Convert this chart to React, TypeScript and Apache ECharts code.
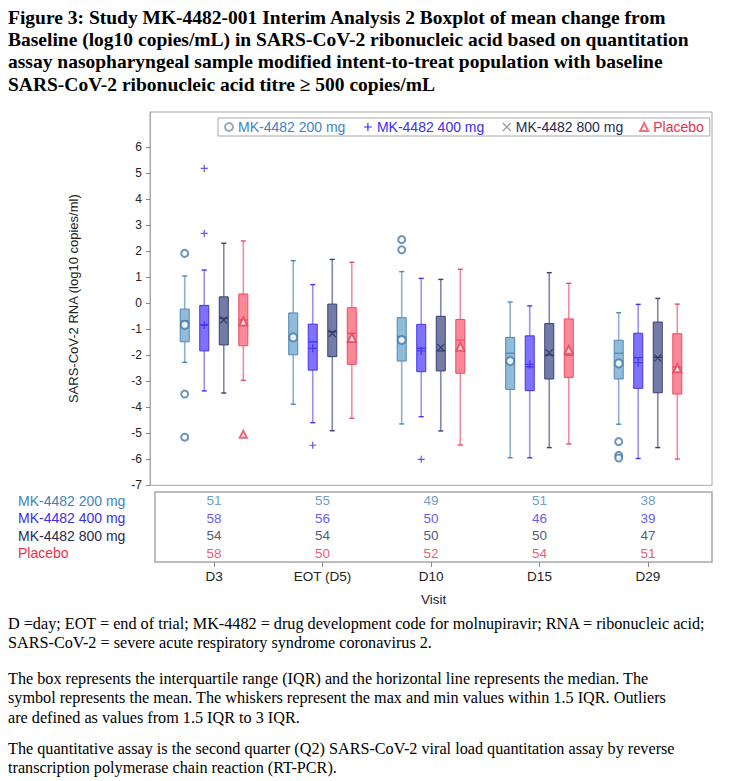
import React, { useEffect, useRef } from "react";
import * as echarts from "echarts";

const visits = ["D3", "EOT (D5)", "D10", "D15", "D29"];
const groups = ["MK-4482 200 mg", "MK-4482 400 mg", "MK-4482 800 mg", "Placebo"];

// per visit: [whisker low, Q1, median, Q3, whisker high]
const box200 = [
  [-2.27, -1.48, -0.68, -0.22, 1.05],
  [-3.88, -1.98, -1.3, -0.37, 1.64],
  [-4.64, -2.22, -1.28, -0.55, 1.22],
  [-5.94, -3.31, -1.92, -1.31, 0.05],
  [-4.65, -2.91, -1.92, -1.42, -0.36],
];
const mean200 = [-0.83, -1.31, -1.41, -2.22, -2.31];
const out200 = [[0, 1.92], [0, -3.49], [0, -5.15], [2, 2.45], [2, 2.06], [4, -5.32], [4, -5.85], [4, -5.95]];

const box400 = [
  [-3.37, -1.83, -0.83, -0.08, 1.28],
  [-4.59, -2.57, -1.48, -0.8, 0.72],
  [-4.36, -2.63, -1.73, -0.81, 0.96],
  [-5.94, -3.36, -2.44, -1.25, -0.1],
  [-5.97, -3.27, -2.09, -1.15, -0.04],
];
const mean400 = [-0.83, -1.73, -1.83, -2.35, -2.28];
const out400 = [[0, 5.19], [0, 2.69], [1, -5.46], [2, -6.0]];

const box800 = [
  [-3.45, -1.6, -0.58, 0.25, 2.31],
  [-4.9, -2.05, -1.09, -0.03, 1.69],
  [-4.91, -2.6, -1.83, -0.5, 0.92],
  [-5.55, -2.91, -1.99, -0.78, 1.18],
  [-5.55, -3.44, -2.08, -0.72, 0.19],
];
const mean800 = [-0.64, -1.16, -1.7, -1.9, -2.1];
const out800: number[][] = [];

const boxPbo = [
  [-2.96, -1.63, -0.64, 0.36, 2.4],
  [-4.42, -2.35, -1.16, -0.17, 1.58],
  [-5.45, -2.69, -1.41, -0.62, 1.31],
  [-5.41, -2.85, -2.0, -0.6, 0.77],
  [-5.99, -3.49, -2.45, -1.17, -0.03],
];
const meanPbo = [-0.7, -1.33, -1.67, -1.79, -2.5];
const outPbo = [[0, -5.04]];

const n200 = [51, 55, 49, 51, 38];
const n400 = [58, 56, 50, 46, 39];
const n800 = [54, 54, 50, 50, 47];
const nPbo = [58, 50, 52, 54, 51];

const yTicks = [-7, -6, -5, -4, -3, -2, -1, 0, 1, 2, 3, 4, 5, 6];

const titleLines = [
  "Figure 3: Study MK-4482-001 Interim Analysis 2 Boxplot of mean change from",
  "Baseline (log10 copies/mL) in SARS-CoV-2 ribonucleic acid based on quantitation",
  "assay nasopharyngeal sample modified intent-to-treat population with baseline",
  "SARS-CoV-2 ribonucleic acid titre \u2265 500 copies/mL",
];
const noteLines = [
  ["D =day; EOT = end of trial; MK-4482 = drug development code for molnupiravir; RNA = ribonucleic acid;", "SARS-CoV-2 = severe acute respiratory syndrome coronavirus 2."],
  [
    "The box represents the interquartile range (IQR) and the horizontal line represents the median. The",
    "symbol represents the mean. The whiskers represent the max and min values within 1.5 IQR. Outliers",
    "are defined as values from 1.5 IQR to 3 IQR.",
  ],
  [
    "The quantitative assay is the second quarter (Q2) SARS-CoV-2 viral load quantitation assay by reverse",
    "transcription polymerase chain reaction (RT-PCR).",
  ],
];

const PLUS = "path://M5,0L5,10M0,5L10,5";
const CROSS = "path://M0,0L10,10M10,0L0,10";

const styles = [
  { fill: "rgba(125,176,212,0.85)", stroke: "#4f87b5", whisker: "#8fb0cc", text: "#3f84c0", marker: "#4a7aa8", legendMarker: "#9aaabb", symbol: "emptyCircle", size: 8 },
  { fill: "rgba(105,88,248,0.85)", stroke: "#4433ee", whisker: "#9a90f2", text: "#3b2df0", marker: "#3b2df0", legendMarker: "#3b2df0", symbol: PLUS, size: 8 },
  { fill: "rgba(100,110,158,0.9)", stroke: "#363f70", whisker: "#8088aa", text: "#252c4f", marker: "#2b3463", legendMarker: "#999999", symbol: CROSS, size: 7 },
  { fill: "rgba(250,115,132,0.85)", stroke: "#ef4a63", whisker: "#f58c9a", text: "#e8304a", marker: "#e8405a", legendMarker: "#f07080", symbol: "emptyTriangle", size: 8 },
];

const boxes = [box200, box400, box800, boxPbo];
const means = [mean200, mean400, mean800, meanPbo];
const outs = [out200, out400, out800, outPbo];
const counts = [n200, n400, n800, nPbo];
const offsets = [-0.27, -0.09, 0.09, 0.27];

const FIG_FONT = "'Liberation Sans', Arial, sans-serif";
const SERIF = "'Liberation Serif', 'DejaVu Serif', serif";

export default function App() {
  const ref = useRef<HTMLDivElement>(null);
  useEffect(() => {
    if (!ref.current) return;
    const chart = echarts.init(ref.current, undefined, { renderer: "svg" });

    const series: any[] = [];
    groups.forEach((g, gi) => {
      const st = styles[gi];
      const isPath = st.symbol.startsWith("path");
      series.push({
        type: "custom",
        name: g,
        xAxisIndex: 0,
        yAxisIndex: 0,
        data: boxes[gi].map((b, i) => [i + offsets[gi], ...b]),
        encode: { x: 0, y: [1, 2, 3, 4, 5] },
        itemStyle: { color: st.marker },
        z: 3,
        renderItem: (params: any, api: any) => {
          const xv = api.value(0);
          const lo = api.coord([xv, api.value(1)]);
          const q1 = api.coord([xv, api.value(2)]);
          const md = api.coord([xv, api.value(3)]);
          const q3 = api.coord([xv, api.value(4)]);
          const hi = api.coord([xv, api.value(5)]);
          const x = lo[0];
          const hw = 4.5;
          const cw = 2.5;
          const ws = { stroke: st.whisker, lineWidth: 1.6 };
          return {
            type: "group",
            children: [
              { type: "line", shape: { x1: x, y1: hi[1], x2: x, y2: q3[1] }, style: ws },
              { type: "line", shape: { x1: x, y1: q1[1], x2: x, y2: lo[1] }, style: ws },
              { type: "line", shape: { x1: x - cw, y1: hi[1], x2: x + cw, y2: hi[1] }, style: { stroke: st.stroke, lineWidth: 1.4 } },
              { type: "line", shape: { x1: x - cw, y1: lo[1], x2: x + cw, y2: lo[1] }, style: { stroke: st.stroke, lineWidth: 1.4 } },
              { type: "rect", shape: { x: x - hw, y: q3[1], width: hw * 2, height: q1[1] - q3[1] }, style: { fill: st.fill, stroke: st.stroke, lineWidth: 1 } },
              { type: "line", shape: { x1: x - hw, y1: md[1], x2: x + hw, y2: md[1] }, style: { stroke: st.stroke, lineWidth: 1.3 } },
            ],
          };
        },
      });
      series.push({
        type: "scatter",
        name: g,
        xAxisIndex: 0,
        yAxisIndex: 0,
        data: means[gi].map((m, i) => [i + offsets[gi], m]),
        symbol: st.symbol,
        symbolSize: st.size,
        itemStyle: { color: isPath ? "none" : st.marker, borderColor: st.marker, borderWidth: 1.3 },
        z: 5,
      });
      series.push({
        type: "scatter",
        name: g,
        xAxisIndex: 0,
        yAxisIndex: 0,
        data: outs[gi].map((o) => [o[0] + offsets[gi], o[1]]),
        symbol: st.symbol,
        symbolSize: st.size - 1,
        itemStyle: { color: isPath ? "none" : st.marker, borderColor: st.marker, borderWidth: 1.2 },
        z: 5,
      });
      series.push({
        type: "scatter",
        name: "n-" + g,
        xAxisIndex: 1,
        yAxisIndex: 1,
        data: counts[gi].map((n, i) => [i, gi, n]),
        symbolSize: 1,
        itemStyle: { color: "rgba(0,0,0,0)" },
        label: {
          show: true,
          position: "inside",
          formatter: (p: any) => String(p.value[2]),
          color: st.text,
          fontSize: 13.5,
          fontFamily: FIG_FONT,
        },
        silent: true,
      });
    });

    const graphic: any[] = [];
    titleLines.forEach((t, i) => {
      graphic.push({
        type: "text",
        x: 8,
        y: 17 + i * 22.4,
        style: { text: t, fill: "#000", font: `bold 19.5px ${SERIF}`, verticalAlign: "middle", align: "left" },
      });
    });
    const paraY = [624, 679, 749];
    noteLines.forEach((para, pi) => {
      para.forEach((t, li) => {
        graphic.push({
          type: "text",
          x: 8,
          y: paraY[pi] + li * 19.3,
          style: { text: t, fill: "#000", font: `16.2px ${SERIF}`, verticalAlign: "middle", align: "left" },
        });
      });
    });

    const option: any = {
      animation: false,
      backgroundColor: "#fff",
      textStyle: { fontFamily: FIG_FONT },
      legend: {
        left: 218,
        top: 118,
        itemWidth: 8,
        itemHeight: 8,
        itemGap: 16,
        padding: [2, 6, 2, 6],
        borderColor: "#a8a8a8",
        borderWidth: 1,
        data: groups.map((g, gi) => ({
          name: g,
          icon: styles[gi].symbol,
          itemStyle: {
            color: styles[gi].symbol.startsWith("path") ? "none" : styles[gi].legendMarker,
            borderColor: styles[gi].legendMarker,
            borderWidth: 1.2,
          },
          textStyle: { color: styles[gi].text, fontSize: 14, fontFamily: FIG_FONT },
        })),
        selectedMode: false,
      },
      grid: [
        { left: 150, right: 20, top: 112, bottom: 781 - 485.3, show: true, borderColor: "#a8a8a8", borderWidth: 1 },
        { left: 155, right: 20, top: 492, bottom: 781 - 562, show: true, borderColor: "#a8a8a8", borderWidth: 1.5 },
      ],
      xAxis: [
        { type: "value", gridIndex: 0, min: -0.59, max: 4.59, show: false },
        {
          type: "value",
          gridIndex: 1,
          min: -0.544,
          max: 4.59,
          axisLine: { show: false },
          splitLine: { show: false },
          axisTick: { show: true, customValues: [0, 1, 2, 3, 4], length: 5, lineStyle: { color: "#888" } },
          axisLabel: {
            customValues: [0, 1, 2, 3, 4],
            formatter: (v: number) => visits[Math.round(v)],
            color: "#222",
            fontSize: 13.5,
            fontFamily: FIG_FONT,
            margin: 7,
          },
          name: "Visit",
          nameLocation: "middle",
          nameGap: 30,
          nameTextStyle: { color: "#222", fontSize: 13.5, fontFamily: FIG_FONT },
        },
      ],
      yAxis: [
        {
          type: "value",
          gridIndex: 0,
          min: -7,
          max: 7.36,
          interval: 1,
          splitLine: { show: false },
          axisLine: { show: true, onZero: false, lineStyle: { color: "#a8a8a8" } },
          axisTick: { show: true, customValues: yTicks, length: 4, lineStyle: { color: "#888" } },
          axisLabel: { customValues: yTicks, color: "#222", fontSize: 12, fontFamily: FIG_FONT, margin: 8 },
          name: "SARS-CoV-2 RNA (log10 copies/ml)",
          nameLocation: "middle",
          nameGap: 70,
          nameRotate: 90,
          nameTextStyle: { color: "#222", fontSize: 13, fontFamily: FIG_FONT },
        },
        {
          type: "category",
          gridIndex: 1,
          data: groups,
          inverse: true,
          axisLine: { show: false, onZero: false },
          axisTick: { show: false },
          axisLabel: {
            interval: 0,
            hideOverlap: false,
            align: "left",
            margin: 137,
            fontSize: 14,
            fontFamily: FIG_FONT,
            formatter: (v: string) => `{g${groups.indexOf(v)}|${v}}`,
            rich: {
              g0: { color: styles[0].text, fontSize: 14, fontFamily: FIG_FONT },
              g1: { color: styles[1].text, fontSize: 14, fontFamily: FIG_FONT },
              g2: { color: styles[2].text, fontSize: 14, fontFamily: FIG_FONT },
              g3: { color: styles[3].text, fontSize: 14, fontFamily: FIG_FONT },
            },
          },
        },
      ],
      series,
      graphic,
    };
    chart.setOption(option);
    return () => chart.dispose();
  }, []);
  return <div ref={ref} style={{ position: "absolute", left: 0, top: 0, width: 732, height: 781 }} />;
}
